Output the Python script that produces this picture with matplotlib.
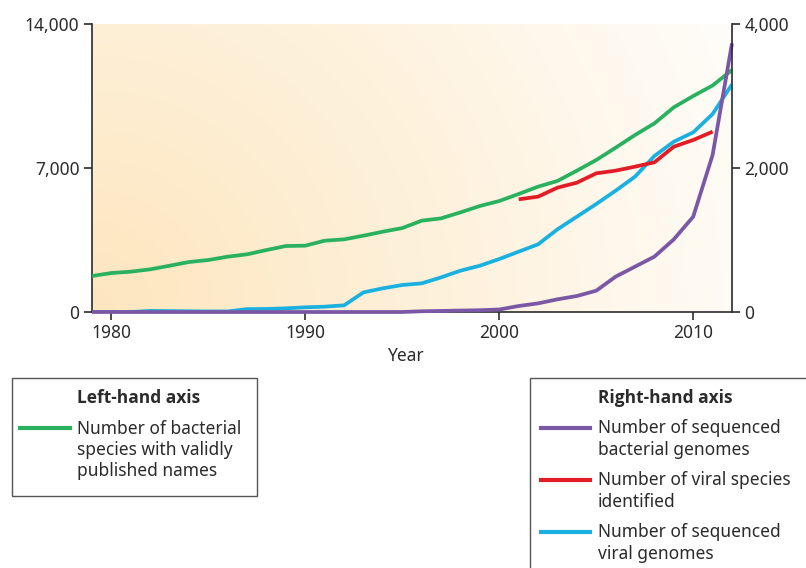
import numpy as np
import matplotlib
matplotlib.use("Agg")
import matplotlib.pyplot as plt
from matplotlib.patches import Rectangle
from matplotlib.lines import Line2D

plt.rcParams['font.family'] = ['Noto Sans', 'DejaVu Sans']

years = list(range(1979, 2013))
bact_species = [1750, 1896, 1960, 2074, 2250, 2430, 2527, 2690, 2805, 3014,
                3208, 3225, 3467, 3532, 3710, 3905, 4080, 4440, 4553, 4845,
                5153, 5396, 5736, 6093, 6370, 6870, 7389, 7987, 8604, 9171,
                9950, 10500, 11010, 11764]
viral_genomes = [0, 0, 0, 15, 12, 10, 8, 8, 40, 42, 51, 65, 74, 93, 273, 329,
                 375, 398, 481, 574, 643, 736, 838, 940, 1148, 1324, 1500,
                 1685, 1880, 2167, 2366, 2495, 2750, 3162]
bact_genomes = [0, 0, 0, 0, 0, 0, 0, 0, 0, 0, 0, 0, 0, 0, 0, 0, 0, 10, 15, 20,
                25, 35, 83, 120, 176, 222, 296, 491, 630, 769, 1009, 1324,
                2181, 3731]
viral_years = list(range(2001, 2012))
viral_species = [1565, 1602, 1727, 1796, 1926, 1963, 2019, 2079, 2296, 2389, 2505]

left_ticks = [0, 7000, 14000]
right_ticks = [0, 2000, 4000]
x_ticks = [1980, 1990, 2000, 2010]

GREEN = "#2ab160"
CYAN = "#1ab1e0"
RED = "#e31d25"
PURPLE = "#7b58a6"
SPINE = "#2b2b2b"
TXT = "#2b2b2b"

fig = plt.figure(figsize=(8.06, 5.68), dpi=100)
ax = fig.add_axes([92/806, 1-312/568, 640/806, 288/568])

# gradient background
nx, ny = 400, 200
gx, gy = np.meshgrid(np.linspace(0, 1, nx), np.linspace(0, 1, ny))
d = np.sqrt((gx*640)**2 + (gy*288)**2) / np.sqrt(640**2 + 288**2)
d = np.clip(d, 0, 1)
c0 = np.array([253, 230, 190]) / 255
c1 = np.array([255, 253, 250]) / 255
img = c0[None, None, :] * (1 - d[..., None]) + c1[None, None, :] * d[..., None]
ax.imshow(img, extent=[0, 1, 0, 1], transform=ax.transAxes, origin='lower',
          aspect='auto', zorder=0, interpolation='bilinear')

ax.plot(years, bact_species, color=GREEN, lw=2.7, zorder=3, solid_capstyle='butt')
ax.set_xlim(1979, 2012)
ax.set_ylim(0, 14000)
ax.set_yticks(left_ticks)
ax.set_yticklabels([f"{v:,}" for v in left_ticks])
ax.set_xticks(x_ticks)
ax.set_xlabel("Year", fontsize=12.5, color=TXT, labelpad=4)
ax.xaxis.set_label_coords(0.49, -0.12)

ax2 = ax.twinx()
ax2.plot(years, viral_genomes, color=CYAN, lw=2.7, solid_capstyle='butt')
ax2.plot(viral_years, viral_species, color=RED, lw=2.7, solid_capstyle='butt')
ax2.plot(years, bact_genomes, color=PURPLE, lw=2.7, clip_on=False, solid_capstyle='butt')
ax2.set_ylim(0, 4000)
ax2.set_yticks(right_ticks)
ax2.set_yticklabels([f"{v:,}" for v in right_ticks])

for a in (ax, ax2):
    a.spines['top'].set_visible(False)
    for s in ('left', 'right', 'bottom'):
        a.spines[s].set_color(SPINE)
        a.spines[s].set_linewidth(1.2)
    a.tick_params(axis='both', direction='out', length=6, width=1.2,
                  colors=SPINE, labelcolor=TXT, labelsize=12.5, pad=3)
ax.spines['right'].set_visible(False)
ax2.spines['left'].set_visible(False)
ax2.spines['bottom'].set_visible(False)

W, H = 806, 568
def fx(px): return px / W
def fy(py): return 1 - py / H

# legend boxes
fig.patches.append(Rectangle((fx(12), fy(496)), fx(257) - fx(12), fy(378) - fy(496),
                             transform=fig.transFigure, fill=False, ec="#555555", lw=1.0))
fig.patches.append(Rectangle((fx(530), fy(600)), fx(300), fy(378) - fy(600),
                             transform=fig.transFigure, fill=False, ec="#555555", lw=1.0,
                             clip_on=True))

fs = 12.5
BOLD = ['Open Sans', 'Lato', 'DejaVu Sans']
fig.text(fx(77), fy(398), "Left-hand axis", fontsize=fs, fontweight='bold', family=BOLD,
         color=TXT, va='center')
fig.lines.append(Line2D([fx(20), fx(70)], [fy(428), fy(428)], transform=fig.transFigure,
                        color=GREEN, lw=3))
fig.text(fx(77), fy(450), "Number of bacterial\nspecies with validly\npublished names",
         fontsize=fs, color=TXT, va='center', linespacing=1.25)

fig.text(fx(598), fy(398), "Right-hand axis", fontsize=fs, fontweight='bold', family=BOLD,
         color=TXT, va='center')
entries = [(PURPLE, 428, "Number of sequenced\nbacterial genomes"),
           (RED, 480, "Number of viral species\nidentified"),
           (CYAN, 532, "Number of sequenced\nviral genomes")]
for col, yy, lab in entries:
    fig.lines.append(Line2D([fx(541), fx(590)], [fy(yy), fy(yy)], transform=fig.transFigure,
                            color=col, lw=3))
    fig.text(fx(598), fy(yy + 11), lab, fontsize=fs, color=TXT, va='center', linespacing=1.25)

fig.savefig("out.png", dpi=100)
